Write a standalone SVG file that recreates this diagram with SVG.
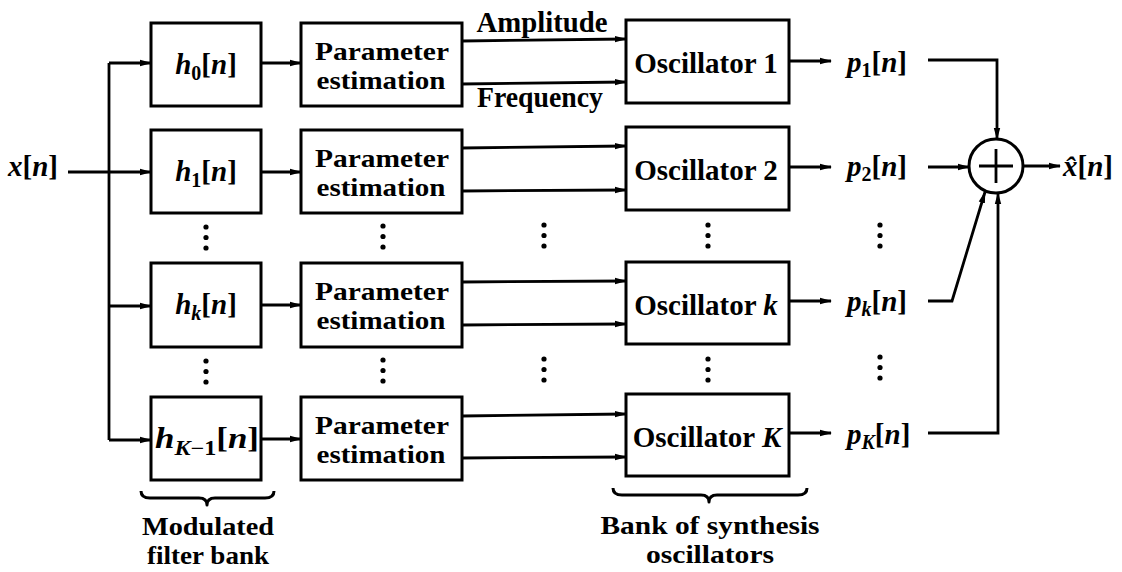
<svg xmlns="http://www.w3.org/2000/svg" width="1122" height="572" viewBox="0 0 1122 572">
  <style>
    .box { fill: #fff; stroke: #000; stroke-width: 3; }
    .wire { fill: none; stroke: #000; stroke-width: 2.8; }
    .arr { marker-end: url(#tip); }
    .brace { fill: none; stroke: #000; stroke-width: 3; stroke-linejoin: round; }
    text { font-weight: bold; font-size: 29px; fill: #000; }
    .c { text-anchor: middle; }
    .two { font-size: 25px; }
    .i { font-style: italic; }
    .sub { font-size: 20px; }
    .dot { fill: #000; }
  </style>
  <defs>
    <marker id="tip" markerWidth="12" markerHeight="8" refX="11" refY="4" orient="auto" markerUnits="userSpaceOnUse">
      <path d="M0,0.8 L12,4 L0,7.2 Z" fill="#000"/>
    </marker>
    <!-- vertical ellipsis: three dots -->
    <g id="vdots">
      <circle class="dot" cx="0" cy="0" r="2.6"/>
      <circle class="dot" cx="0" cy="10.5" r="2.6"/>
      <circle class="dot" cx="0" cy="21" r="2.6"/>
    </g>
  </defs>

  <g font-family="Liberation Serif, Times New Roman, serif">
  <!-- input signal -->
  <g id="input">
    <text x="8" y="176"><tspan class="i">x</tspan>[<tspan class="i">n</tspan>]</text>
  </g>

  <!-- analysis filters -->
  <g id="filter0">
    <rect class="box" x="151" y="23" width="110" height="83"/>
    <text class="c" x="206" y="74"><tspan class="i">h</tspan><tspan class="sub" dy="6">0</tspan><tspan dy="-6">[</tspan><tspan class="i">n</tspan>]</text>
  </g>
  <g id="filter1">
    <rect class="box" x="151" y="130" width="110" height="83"/>
    <text class="c" x="206" y="181"><tspan class="i">h</tspan><tspan class="sub" dy="6">1</tspan><tspan dy="-6">[</tspan><tspan class="i">n</tspan>]</text>
  </g>
  <g id="filterk">
    <rect class="box" x="151" y="263" width="110" height="84"/>
    <text class="c" x="206" y="314"><tspan class="i">h</tspan><tspan class="sub i" dy="6">k</tspan><tspan dy="-6">[</tspan><tspan class="i">n</tspan>]</text>
  </g>
  <g id="filterK">
    <rect class="box" x="151" y="397" width="110" height="83"/>
    <text class="c" x="207" y="448" textLength="104" lengthAdjust="spacingAndGlyphs"><tspan class="i">h</tspan><tspan class="sub" dy="7" font-size="22"><tspan class="i">K</tspan>−1</tspan><tspan dy="-7">[</tspan><tspan class="i">n</tspan>]</text>
  </g>

  <!-- parameter estimators -->
  <g id="est0">
    <rect class="box" x="301" y="23" width="161" height="83"/>
    <text class="c two" x="382" y="60" textLength="134" lengthAdjust="spacingAndGlyphs">Parameter</text>
    <text class="c two" x="381" y="89" textLength="129" lengthAdjust="spacingAndGlyphs">estimation</text>
  </g>
  <g id="est1">
    <rect class="box" x="301" y="130" width="161" height="83"/>
    <text class="c two" x="382" y="167" textLength="134" lengthAdjust="spacingAndGlyphs">Parameter</text>
    <text class="c two" x="381" y="196" textLength="129" lengthAdjust="spacingAndGlyphs">estimation</text>
  </g>
  <g id="estk">
    <rect class="box" x="301" y="263" width="161" height="84"/>
    <text class="c two" x="382" y="300" textLength="134" lengthAdjust="spacingAndGlyphs">Parameter</text>
    <text class="c two" x="381" y="329" textLength="129" lengthAdjust="spacingAndGlyphs">estimation</text>
  </g>
  <g id="estK">
    <rect class="box" x="301" y="397" width="161" height="83"/>
    <text class="c two" x="382" y="434" textLength="134" lengthAdjust="spacingAndGlyphs">Parameter</text>
    <text class="c two" x="381" y="463" textLength="129" lengthAdjust="spacingAndGlyphs">estimation</text>
  </g>

  <!-- synthesis oscillators -->
  <g id="osc1">
    <rect class="box" x="626" y="20" width="163" height="83"/>
    <text class="c" x="706" y="73">Oscillator 1</text>
  </g>
  <g id="osc2">
    <rect class="box" x="626" y="127" width="163" height="83"/>
    <text class="c" x="706" y="180">Oscillator 2</text>
  </g>
  <g id="osck">
    <rect class="box" x="626" y="262" width="163" height="82"/>
    <text class="c" x="706" y="315">Oscillator <tspan class="i">k</tspan></text>
  </g>
  <g id="oscK">
    <rect class="box" x="626" y="394" width="163" height="82"/>
    <text class="c" x="707" y="447">Oscillator <tspan class="i">K</tspan></text>
  </g>

  <!-- summing junction -->
  <g id="sum">
    <circle cx="996" cy="166" r="27" fill="#fff" stroke="#000" stroke-width="3"/>
    <path class="wire" d="M979,166 H1013 M996,149 V183" stroke-width="3"/>
  </g>

  <!-- partial outputs and result -->
  <g id="outputs">
    <text x="847" y="72"><tspan class="i">p</tspan><tspan class="sub" dy="5">1</tspan><tspan dy="-5">[</tspan><tspan class="i">n</tspan>]</text>
    <text x="847" y="176"><tspan class="i">p</tspan><tspan class="sub" dy="5">2</tspan><tspan dy="-5">[</tspan><tspan class="i">n</tspan>]</text>
    <text x="847" y="311"><tspan class="i">p</tspan><tspan class="sub i" dy="5">k</tspan><tspan dy="-5">[</tspan><tspan class="i">n</tspan>]</text>
    <text x="847" y="444"><tspan class="i">p</tspan><tspan class="sub i" dy="5">K</tspan><tspan dy="-5">[</tspan><tspan class="i">n</tspan>]</text>
    <text x="1063" y="176"><tspan class="i">x̂</tspan>[<tspan class="i">n</tspan>]</text>
  </g>

  <!-- parameter labels -->
  <g id="labels">
    <text class="c" x="542" y="32" textLength="131" lengthAdjust="spacingAndGlyphs">Amplitude</text>
    <text class="c" x="540" y="107" textLength="126" lengthAdjust="spacingAndGlyphs">Frequency</text>
    <text class="c two" x="208" y="535" textLength="132" lengthAdjust="spacingAndGlyphs">Modulated</text>
    <text class="c two" x="208" y="564" textLength="122" lengthAdjust="spacingAndGlyphs">filter bank</text>
    <text class="c two" x="710" y="534" textLength="219" lengthAdjust="spacingAndGlyphs">Bank of synthesis</text>
    <text class="c two" x="710" y="563" textLength="128" lengthAdjust="spacingAndGlyphs">oscillators</text>
  </g>
  </g>

  <!-- connectors -->
  <g id="connectors">
    <!-- input distribution -->
    <path class="wire" d="M109,63 V440"/>
    <path class="wire arr" d="M68,172 H151"/>
    <path class="wire arr" d="M109,63 H151"/>
    <path class="wire arr" d="M109,306 H151"/>
    <path class="wire arr" d="M109,440 H151"/>
    <!-- filter to estimator -->
    <path class="wire arr" d="M261,63 H301"/>
    <path class="wire arr" d="M261,172 H301"/>
    <path class="wire arr" d="M261,305 H301"/>
    <path class="wire arr" d="M261,439 H301"/>
    <!-- amplitude / frequency tracks -->
    <path class="wire arr" d="M462,41 L626,39"/>
    <path class="wire arr" d="M462,84 L626,82"/>
    <path class="wire arr" d="M462,148 L626,146"/>
    <path class="wire arr" d="M462,191 L626,190"/>
    <path class="wire arr" d="M462,282 L626,281"/>
    <path class="wire arr" d="M462,325 L626,324"/>
    <path class="wire arr" d="M462,416 L626,414"/>
    <path class="wire arr" d="M462,458 L626,457"/>
    <!-- oscillator outputs -->
    <path class="wire arr" d="M789,61 H831"/>
    <path class="wire arr" d="M789,167 H831"/>
    <path class="wire arr" d="M789,301 H831"/>
    <path class="wire arr" d="M789,433 H831"/>
    <!-- into the adder -->
    <path class="wire arr" d="M928,60 H997 V139"/>
    <path class="wire arr" d="M928,167 H969"/>
    <path class="wire arr" d="M928,301 H952 L985,192"/>
    <path class="wire arr" d="M928,433 H998 V193"/>
    <path class="wire arr" d="M1023,166 H1060"/>
  </g>

  <!-- continuation dots -->
  <g id="ellipses">
    <use href="#vdots" x="206" y="227"/>
    <use href="#vdots" x="206" y="361"/>
    <use href="#vdots" x="383" y="226"/>
    <use href="#vdots" x="383" y="360"/>
    <use href="#vdots" x="544" y="225"/>
    <use href="#vdots" x="544" y="359"/>
    <use href="#vdots" x="708" y="225"/>
    <use href="#vdots" x="708" y="359"/>
    <use href="#vdots" x="880" y="225"/>
    <use href="#vdots" x="880" y="357"/>
  </g>

  <!-- group braces -->
  <g id="braces">
    <path class="brace" d="M141,491 Q141,498 150,498 L199,498 Q207,498 207,505 Q207,498 215,498 L265,498 Q274,498 274,491"/>
    <path class="brace" d="M613,488 Q613,495 622,495 L701,495 Q709,495 709,502 Q709,495 717,495 L798,495 Q807,495 807,488"/>
  </g>
</svg>
